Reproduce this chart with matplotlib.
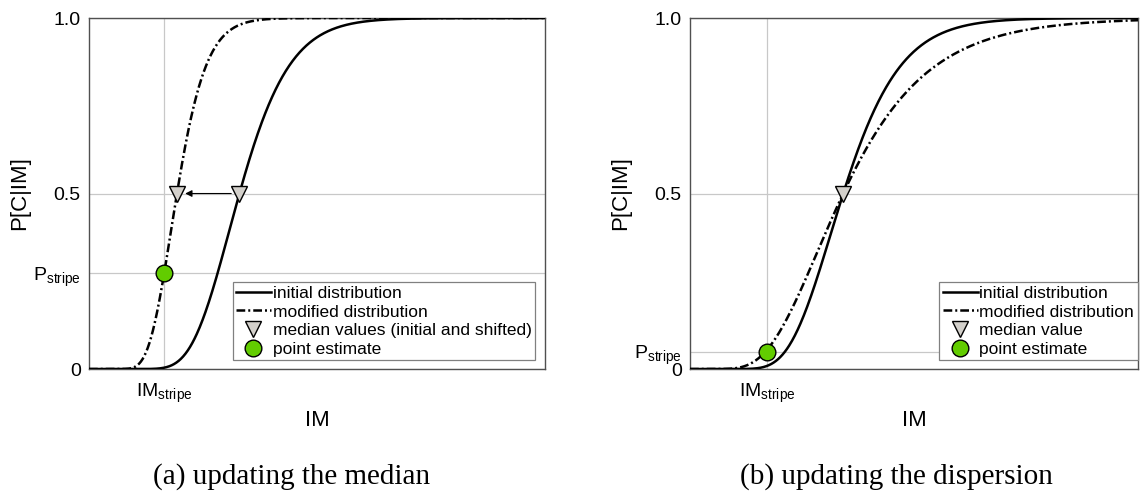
import math
import numpy as np
import matplotlib
matplotlib.use("Agg")
import matplotlib.pyplot as plt

plt.rcParams["font.family"] = ["Liberation Sans", "DejaVu Sans"]
plt.rcParams["mathtext.fontset"] = "custom"
plt.rcParams["mathtext.rm"] = "Liberation Sans"
plt.rcParams["mathtext.it"] = "Liberation Sans"

# values (IM in axis units 0..1)
im_stripe = [0.165, 0.172]
p_stripe = [0.273, 0.049]

# panel (a): median shifted, same dispersion
a_medians = [0.33, 0.193]      # initial, modified
a_betas = [0.26, 0.26]
# panel (b): same median, larger dispersion
b_medians = [0.342, 0.342]
b_betas = [0.29, 0.43]

series_labels = ["initial distribution", "modified distribution"]
median_labels = ["median values (initial and shifted)", "median value"]
point_label = "point estimate"
captions = ["(a) updating the median", "(b) updating the dispersion"]

GREEN = "#62cc00"
TRI = "#d3d0cb"
GRID = "#c8c8c8"


def lognorm_cdf(x, median, beta):
    x = np.asarray(x)
    out = np.zeros_like(x)
    pos = x > 0
    z = np.log(x[pos] / median) / (beta * math.sqrt(2))
    out[pos] = 0.5 * (1 + np.vectorize(math.erf)(z))
    return out


fig = plt.figure(figsize=(11.42, 4.95), dpi=100)
ax_a = fig.add_axes([0.0779, 0.2545, 0.3993, 0.7091])
ax_b = fig.add_axes([0.6042, 0.2545, 0.3923, 0.7091])

x = np.linspace(0, 1, 800)
panels = [(ax_a, a_medians, a_betas, 0), (ax_b, b_medians, b_betas, 1)]

for ax, meds, betas, k in panels:
    ax.plot(x, lognorm_cdf(x, meds[0], betas[0]), color="k", lw=1.8,
            label=series_labels[0], zorder=3)
    ax.plot(x, lognorm_cdf(x, meds[1], betas[1]), color="k", lw=1.8,
            dashes=(3.5, 1.2, 0.8, 1.2), label=series_labels[1], zorder=3)

    # median markers
    mx = sorted(set(meds))
    ax.plot(mx, [0.5] * len(mx), linestyle="none", marker="v", ms=11,
            mfc=TRI, mec="k", mew=1.0, label=median_labels[k], zorder=5)
    ax.plot([im_stripe[k]], [p_stripe[k]], linestyle="none", marker="o",
            ms=12, mfc=GREEN, mec="k", mew=1.0, label=point_label, zorder=6)

    ax.set_xlim(0, 1)
    ax.set_ylim(0, 1)
    ax.set_xticks([im_stripe[k]])
    ax.set_xticklabels([r"$\mathregular{IM_{stripe}}$"])
    ax.set_yticks([0, p_stripe[k], 0.5, 1.0])
    ax.set_yticklabels(["0", r"$\mathregular{P_{stripe}}$", "0.5", "1.0"])
    ax.tick_params(length=0, labelsize=14)
    ax.tick_params(axis="x", pad=9)
    ax.tick_params(axis="y", pad=6)
    ax.grid(True, color=GRID, lw=0.9)
    ax.set_axisbelow(True)
    for s in ax.spines.values():
        s.set_color("#505050")
        s.set_linewidth(1.0)
    ax.set_xlabel("IM", fontsize=16, labelpad=4)
    ax.set_ylabel("P[C|IM]", fontsize=16, labelpad=2)

    leg_x = [0.978, 0.999][k]
    leg = ax.legend(loc="lower right", bbox_to_anchor=(leg_x, 0.025),
                    fontsize=12.5, numpoints=1, handlelength=2.0,
                    handletextpad=0.1, labelspacing=0.2, borderpad=0.2,
                    borderaxespad=0, fancybox=False, framealpha=1,
                    edgecolor="#808080")
    leg.get_frame().set_linewidth(0.9)

    fig.text([0.255, 0.785][k], 0.01, captions[k], ha="center",
             va="bottom", family="Liberation Serif", fontsize=21)

# arrow from the initial median to the shifted one
ax_a.annotate("", xy=(a_medians[1] + 0.018, 0.5),
              xytext=(a_medians[0] - 0.018, 0.5),
              arrowprops=dict(arrowstyle="-|>", lw=0.8, color="k",
                              mutation_scale=10, shrinkA=0, shrinkB=0),
              zorder=4)

fig.savefig("out.png", dpi=100)
